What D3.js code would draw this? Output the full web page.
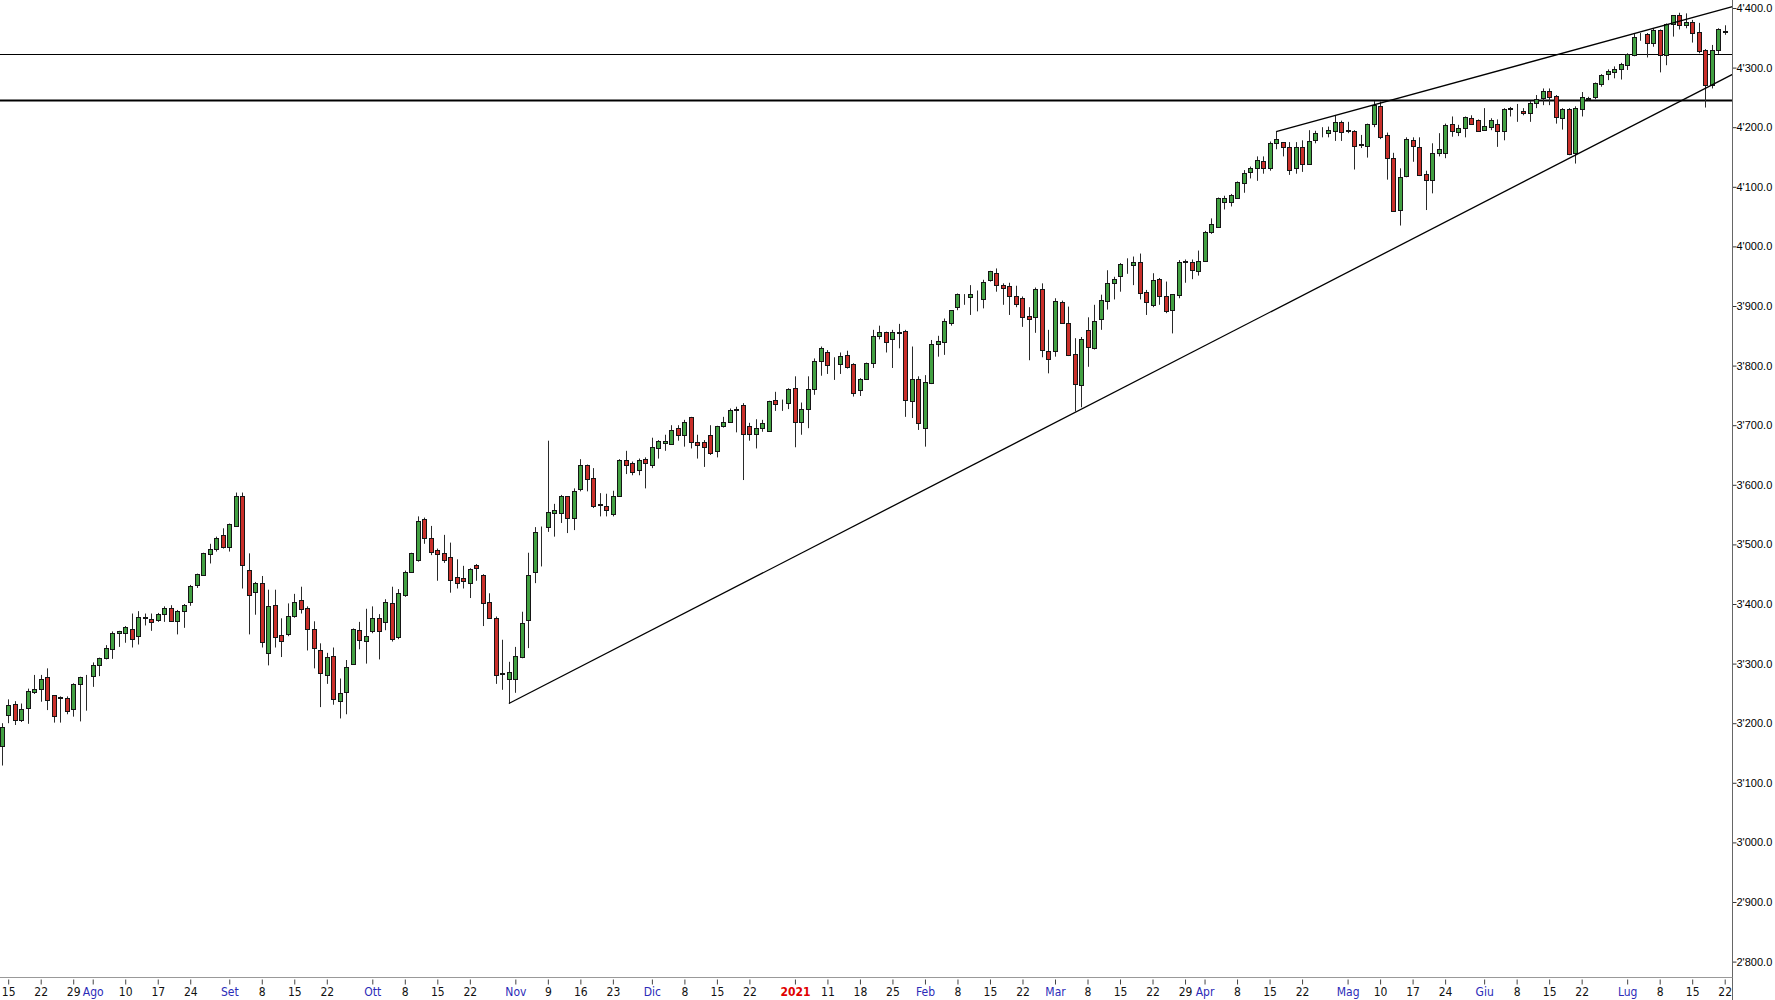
<!DOCTYPE html>
<html><head><meta charset="utf-8">
<script src="https://cdn.jsdelivr.net/npm/d3@7"></script>
<style>html,body{margin:0;padding:0;background:#fff;overflow:hidden}</style>
</head><body>
<svg id="chart" width="1775" height="1000"></svg>
<script>
// ---- DATA ----
const startDate = "2020-07-14";
const endDate = "2021-07-22";
const closedDays = ["2020-12-25", "2021-01-01"];

const openV = [
3161,3214,3233,3206,3225,3252,3258,3277,3247,3243,
3243,3223,3265,3277,3280,3297,3309,3325,3351,3352,
3358,3347,3377,3375,3373,3384,3394,3372,3388,3404,
3432,3449,3484,3493,3516,3495,3531,3581,3457,3420,
3435,3317,3398,3348,3350,3380,3407,3393,3358,3322,
3281,3312,3238,3253,3299,3356,3338,3354,3377,3369,
3402,3344,3415,3454,3474,3542,3510,3491,3486,3479,
3446,3444,3436,3465,3449,3404,3377,3283,3274,3274,
3311,3373,3453,3517,3530,3552,3552,3581,3544,3593,
3633,3611,3566,3564,3551,3581,3642,3636,3625,3644,
3633,3661,3670,3668,3696,3684,3713,3671,3672,3684,
3656,3699,3706,3726,3734,3698,3685,3695,3691,3742,
3737,3737,3762,3706,3728,3760,3807,3823,3804,3802,
3818,3802,3759,3777,3804,3850,3857,3844,3855,3858,
3740,3777,3696,3771,3836,3840,3872,3898,3918,3915,
3913,3911,3943,3956,3936,3934,3916,3913,3884,3882,
3928,3825,3825,3907,3871,3820,3768,3860,3830,3878,
3909,3939,3950,3970,3969,3974,3924,3902,3945,3917,
3893,3919,3974,3974,3959,3976,4024,4033,4075,4075,
4082,4107,4124,4131,4143,4131,4173,4175,4167,4131,
4167,4138,4178,4193,4191,4194,4209,4194,4194,4170,
4168,4206,4236,4187,4148,4061,4118,4178,4167,4121,
4112,4157,4157,4206,4192,4198,4215,4212,4196,4201,
4206,4194,4230,4230,4228,4223,4240,4249,4260,4252,
4215,4230,4157,4230,4248,4251,4273,4289,4292,4297,
4304,4321,4356,4356,4341,4363,4321,4373,4388,4371,
4377,4359,4330,4271,4330,4361];

const highV = [
3200,3240,3237,3233,3258,3281,3281,3292,3247,3245,
3245,3267,3278,3281,3302,3310,3331,3354,3355,3363,
3384,3388,3384,3384,3385,3396,3398,3390,3400,3432,
3451,3486,3501,3513,3527,3535,3587,3587,3485,3437,
3447,3424,3424,3376,3401,3417,3429,3396,3371,3334,
3318,3327,3275,3306,3359,3370,3392,3396,3383,3408,
3429,3425,3456,3486,3547,3545,3531,3493,3516,3503,
3475,3464,3460,3467,3450,3418,3379,3340,3303,3328,
3387,3486,3529,3530,3674,3568,3583,3581,3594,3643,
3634,3628,3586,3585,3590,3643,3657,3639,3644,3646,
3679,3675,3684,3700,3700,3709,3714,3684,3675,3700,
3699,3714,3728,3731,3737,3704,3710,3709,3741,3756,
3743,3762,3782,3738,3782,3812,3832,3826,3814,3822,
3825,3804,3779,3805,3860,3867,3857,3860,3870,3860,
3832,3782,3784,3843,3850,3879,3893,3921,3920,3935,
3926,3944,3959,3963,3938,3939,3934,3916,3898,3931,
3938,3860,3913,3909,3899,3846,3848,3881,3902,3919,
3960,3949,3972,3980,3983,3988,3927,3955,3947,3941,
3920,3977,3978,3978,3993,4026,4047,4082,4085,4088,
4109,4128,4134,4151,4151,4176,4192,4175,4175,4175,
4178,4195,4194,4200,4201,4219,4211,4209,4195,4187,
4206,4244,4243,4191,4157,4131,4183,4183,4183,4127,
4173,4190,4206,4218,4204,4218,4220,4213,4232,4215,
4213,4232,4234,4239,4232,4244,4254,4265,4265,4254,
4232,4232,4235,4259,4251,4275,4289,4297,4302,4308,
4324,4358,4358,4358,4366,4364,4374,4388,4392,4391,
4380,4375,4331,4338,4366,4371];

const lowV = [
3129,3200,3197,3202,3199,3249,3236,3222,3201,3201,
3215,3211,3203,3221,3261,3279,3307,3308,3328,3335,
3327,3332,3364,3355,3370,3370,3370,3349,3360,3397,
3427,3447,3468,3488,3493,3488,3530,3426,3349,3382,
3327,3297,3327,3311,3346,3377,3384,3322,3292,3227,
3266,3231,3208,3215,3298,3324,3300,3351,3307,3356,
3337,3341,3412,3453,3471,3501,3482,3439,3469,3419,
3426,3426,3410,3439,3363,3376,3266,3256,3233,3251,
3309,3326,3435,3463,3521,3513,3536,3519,3524,3589,
3589,3561,3547,3547,3547,3580,3618,3616,3616,3594,
3628,3644,3657,3667,3674,3664,3661,3644,3630,3650,
3646,3696,3704,3688,3608,3674,3661,3689,3689,3724,
3724,3727,3663,3684,3695,3751,3783,3786,3776,3786,
3795,3748,3749,3776,3796,3844,3822,3796,3829,3714,
3712,3692,3664,3769,3815,3818,3867,3893,3902,3885,
3891,3896,3941,3924,3902,3885,3898,3865,3809,3855,
3814,3787,3815,3871,3816,3723,3730,3798,3827,3860,
3894,3911,3924,3954,3935,3911,3885,3898,3902,3888,
3854,3913,3939,3945,3951,3974,4021,4032,4062,4067,
4081,4090,4114,4110,4122,4127,4163,4151,4120,4122,
4125,4137,4173,4183,4183,4177,4177,4190,4129,4165,
4149,4200,4180,4112,4060,4035,4116,4142,4118,4061,
4089,4151,4148,4184,4185,4183,4204,4192,4195,4195,
4167,4178,4218,4209,4220,4209,4232,4237,4237,4206,
4196,4153,4139,4218,4245,4247,4268,4279,4282,4280,
4296,4319,4345,4317,4335,4292,4304,4352,4364,4366,
4342,4324,4233,4265,4323,4355];

const closeV = [
3194,3230,3206,3223,3254,3258,3275,3239,3212,3244,
3221,3266,3277,3278,3297,3309,3327,3352,3355,3361,
3342,3378,3378,3369,3384,3394,3372,3389,3398,3431,
3450,3485,3492,3511,3496,3534,3581,3465,3415,3435,
3337,3396,3344,3338,3380,3404,3391,3358,3326,3284,
3311,3240,3251,3295,3358,3340,3347,3377,3354,3403,
3342,3418,3454,3485,3540,3510,3488,3484,3473,3441,
3436,3439,3458,3460,3402,3376,3281,3284,3286,3313,
3368,3449,3520,3518,3555,3557,3581,3544,3589,3634,
3610,3564,3567,3557,3581,3642,3634,3622,3642,3636,
3664,3674,3674,3692,3684,3706,3672,3667,3663,3654,
3698,3706,3726,3727,3686,3685,3695,3704,3740,3736,
3737,3760,3706,3727,3760,3807,3830,3801,3804,3816,
3797,3754,3777,3804,3850,3856,3839,3857,3856,3742,
3777,3703,3773,3836,3842,3875,3893,3920,3919,3920,
3914,3941,3958,3935,3931,3916,3903,3882,3879,3928,
3827,3811,3909,3871,3818,3769,3844,3831,3875,3910,
3938,3945,3971,3971,3974,3921,3907,3943,3916,3891,
3920,3973,3975,3960,3976,4025,4038,4081,4081,4086,
4108,4123,4132,4145,4131,4173,4181,4166,4129,4167,
4139,4177,4191,4194,4195,4209,4192,4195,4168,4171,
4205,4237,4183,4148,4060,4117,4180,4168,4120,4112,
4157,4163,4204,4194,4198,4217,4206,4194,4202,4212,
4194,4230,4233,4230,4223,4241,4248,4260,4251,4217,
4230,4155,4232,4250,4249,4274,4288,4295,4297,4306,
4323,4351,4356,4341,4363,4321,4373,4388,4371,4377,
4358,4328,4271,4330,4364,4359];

const xTickLabels = [
["2020-07-15","15"],["2020-07-22","22"],["2020-07-29","29"],["2020-08-03","Ago"],
["2020-08-10","10"],["2020-08-17","17"],["2020-08-24","24"],["2020-09-01","Set"],
["2020-09-08","8"],["2020-09-15","15"],["2020-09-22","22"],["2020-10-01","Ott"],
["2020-10-08","8"],["2020-10-15","15"],["2020-10-22","22"],["2020-11-02","Nov"],
["2020-11-09","9"],["2020-11-16","16"],["2020-11-23","23"],["2020-12-01","Dic"],
["2020-12-08","8"],["2020-12-15","15"],["2020-12-22","22"],["2021-01-04","2021"],
["2021-01-11","11"],["2021-01-18","18"],["2021-01-25","25"],["2021-02-01","Feb"],
["2021-02-08","8"],["2021-02-15","15"],["2021-02-22","22"],["2021-03-01","Mar"],
["2021-03-08","8"],["2021-03-15","15"],["2021-03-22","22"],["2021-03-29","29"],
["2021-04-01","Apr"],["2021-04-08","8"],["2021-04-15","15"],["2021-04-22","22"],
["2021-05-03","Mag"],["2021-05-10","10"],["2021-05-17","17"],["2021-05-24","24"],
["2021-06-01","Giu"],["2021-06-08","8"],["2021-06-15","15"],["2021-06-22","22"],
["2021-07-01","Lug"],["2021-07-08","8"],["2021-07-15","15"],["2021-07-22","22"]];

const yTickValues = [2800,2900,3000,3100,3200,3300,3400,3500,3600,3700,3800,3900,4000,4100,4200,4300,4400];

const horizontalLevels = [4322, 4246];
const levelWidths = [1, 2];

// trend lines: two anchor points each, extended to the right edge of the plot
const trendAnchors = [
  [["2020-10-30", 3233], ["2021-03-04", 3721]],
  [["2021-04-16", 4192.5], ["2021-05-07", 4237.3]]
];

// ---- BUILD ----
const dates = [];
(function(){
  const s = new Date(startDate + "T00:00:00Z"), e = new Date(endDate + "T00:00:00Z");
  for (let d = new Date(s); d <= e; d.setUTCDate(d.getUTCDate() + 1)) {
    const wd = d.getUTCDay();
    const iso = d.toISOString().slice(0, 10);
    if (wd === 0 || wd === 6 || closedDays.includes(iso)) continue;
    dates.push(iso);
  }
})();
const idx = new Map(dates.map((d, i) => [d, i]));
const candles = dates.map((d, i) => ({ date: d, i, o: openV[i], h: highV[i], l: lowV[i], c: closeV[i] }));

const plotRight = 1732.5, plotBottom = 977.5;
const svg = d3.select("#chart");

const x = d3.scaleLinear().domain([-0.26, 266.2]).range([0, plotRight]);
const y = d3.scaleLinear().domain([2800, 4400]).range([961.6, 8]);

const GREEN = "#42a042", RED = "#c92f2a", OUTLINE = "#151515", WICK = "#2a2a2a";

// horizontal levels
svg.append("g").selectAll("line").data(horizontalLevels).join("line")
  .attr("x1", 0).attr("x2", plotRight)
  .attr("y1", d => Math.round(y(d)) + 0.5).attr("y2", d => Math.round(y(d)) + 0.5)
  .attr("stroke", "#000").attr("stroke-width", (d, k) => levelWidths[k]);

// candles
const cg = svg.append("g");
cg.selectAll("line.wick").data(candles).join("line").attr("class", "wick")
  .attr("x1", d => Math.round(x(d.i)) + 0.5).attr("x2", d => Math.round(x(d.i)) + 0.5)
  .attr("y1", d => y(d.h)).attr("y2", d => y(d.l))
  .attr("stroke", WICK).attr("stroke-width", 1);
cg.selectAll("rect.body").data(candles).join("rect").attr("class", "body")
  .attr("x", d => Math.round(x(d.i)) - 1.5)
  .attr("width", 4)
  .attr("y", d => Math.round(y(Math.max(d.o, d.c))) + 0.5)
  .attr("height", d => Math.max(0, Math.round(y(Math.min(d.o, d.c))) - Math.round(y(Math.max(d.o, d.c)))))
  .attr("fill", d => d.c >= d.o ? GREEN : RED)
  .attr("stroke", OUTLINE).attr("stroke-width", 1);

// trend lines
const tg = svg.append("g");
trendAnchors.forEach(([a, b]) => {
  const i1 = idx.get(a[0]), i2 = idx.get(b[0]);
  const slope = (b[1] - a[1]) / (i2 - i1);
  const iEnd = x.invert(plotRight);
  tg.append("line")
    .attr("x1", x(i1)).attr("y1", y(a[1]))
    .attr("x2", x(iEnd)).attr("y2", y(a[1] + slope * (iEnd - i1)))
    .attr("stroke", "#000").attr("stroke-width", 1.3);
});

// right axis
const fmt = v => d3.format(",.1f")(v).replace(/,/g, "'");
const ya = svg.append("g").attr("transform", `translate(${plotRight},0)`)
  .call(d3.axisRight(y).tickValues(yTickValues).tickFormat(fmt).tickSize(4).tickSizeOuter(0));
ya.select(".domain").remove();
ya.selectAll(".tick line").attr("stroke", "#333");
ya.selectAll(".tick text").attr("x", 4).attr("fill", "#000")
  .style("font-family", "'Liberation Sans', Arial, sans-serif").style("font-size", "11px");
svg.append("line").attr("x1", plotRight).attr("x2", plotRight).attr("y1", 0).attr("y2", 1000)
  .attr("stroke", "#666").attr("stroke-width", 1);

// bottom axis
const tickIdx = xTickLabels.map(t => idx.get(t[0]));
const labelOf = new Map(xTickLabels.map(t => [idx.get(t[0]), t[1]]));
const xa = svg.append("g").attr("transform", `translate(0,${plotBottom + 2})`)
  .call(d3.axisBottom(x).tickValues(tickIdx).tickFormat(i => labelOf.get(i)).tickSize(5).tickSizeOuter(0));
xa.select(".domain").remove();
xa.selectAll(".tick line").attr("stroke", "#444");
xa.selectAll(".tick text").attr("y", 8)
  .style("font-family", "'Liberation Sans Narrow', 'DejaVu Sans Condensed', 'Liberation Sans', sans-serif")
  .style("font-size", "12px")
  .attr("fill", i => { const s = labelOf.get(i); return s === "2021" ? "#e00000" : (/^\d+$/.test(s) ? "#111" : "#2b2bb8"); })
  .style("font-weight", i => labelOf.get(i) === "2021" ? "bold" : "normal");
svg.append("line").attr("x1", 0).attr("x2", plotRight).attr("y1", plotBottom).attr("y2", plotBottom)
  .attr("stroke", "#999").attr("stroke-width", 1);
</script>
</body></html>
